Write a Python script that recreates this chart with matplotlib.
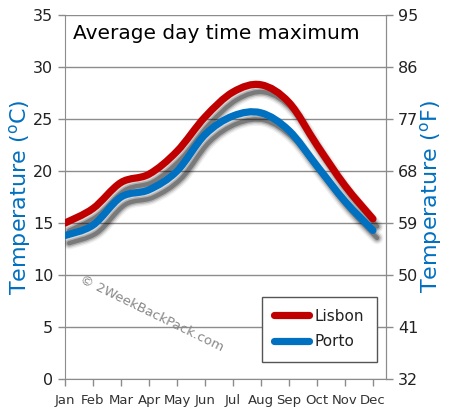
import matplotlib
matplotlib.use("Agg")
import matplotlib.pyplot as plt
import matplotlib.patheffects as pe
from matplotlib.path import Path
from matplotlib.patches import PathPatch
from matplotlib.lines import Line2D

# data
months = ["Jan", "Feb", "Mar", "Apr", "May", "Jun", "Jul", "Aug", "Sep", "Oct", "Nov", "Dec"]
lisbon = [15.0, 16.4, 18.9, 19.7, 21.9, 25.2, 27.6, 28.3, 26.6, 22.5, 18.6, 15.4]
porto = [13.8, 14.8, 17.5, 18.2, 20.0, 23.5, 25.3, 25.6, 23.9, 20.5, 17.1, 14.3]
c_ticks = [0, 5, 10, 15, 20, 25, 30, 35]
f_ticks = [32, 41, 50, 59, 68, 77, 86, 95]

RED = "#c00000"
BLUE = "#0070c0"
GRID = "#8c8c8c"


def smooth_path(xs, ys):
    # catmull-rom through the points, as cubic bezier segments
    pts = list(zip(xs, ys))
    verts = [pts[0]]
    codes = [Path.MOVETO]
    n = len(pts)
    for i in range(n - 1):
        p0 = pts[i - 1] if i > 0 else pts[i]
        p1 = pts[i]
        p2 = pts[i + 1]
        p3 = pts[i + 2] if i + 2 < n else pts[i + 1]
        c1 = (p1[0] + (p2[0] - p0[0]) / 6, p1[1] + (p2[1] - p0[1]) / 6)
        c2 = (p2[0] - (p3[0] - p1[0]) / 6, p2[1] - (p3[1] - p1[1]) / 6)
        verts += [c1, c2, p2]
        codes += [Path.CURVE4] * 3
    return Path(verts, codes)


fig, ax = plt.subplots(figsize=(4.5, 4.2), dpi=100)
fig.subplots_adjust(left=0.1444, right=0.858, top=0.964, bottom=0.0976)

x = list(range(len(months)))
lw = 5.2
# fake a blurred drop shadow with a few stacked strokes
shadow = [pe.SimpleLineShadow(offset=(3, -5.5), shadow_color="k", alpha=a, linewidth=lw + w)
          for a, w in [(0.06, 4), (0.1, 2), (0.18, 0), (0.3, -2)]]
for vals, col in [(lisbon, RED), (porto, BLUE)]:
    patch = PathPatch(smooth_path(x, vals), fill=False, edgecolor=col, lw=lw,
                      capstyle="round", joinstyle="round", zorder=3)
    patch.set_path_effects(shadow + [pe.Normal()])
    ax.add_patch(patch)

ax.set_xlim(0, 11.47)
ax.set_ylim(0, 35)
ax.set_xticks(x)
ax.set_xticklabels(months, fontsize=9.5, color="#333333")
ax.set_yticks(c_ticks)
ax.set_yticklabels(c_ticks, fontsize=11.5, color="#222222")
ax.grid(axis="y", color=GRID, lw=1)
ax.set_axisbelow(True)
ax.tick_params(axis="both", color=GRID, length=5, width=1)
ax.tick_params(axis="x", pad=6)
ax.spines["top"].set_visible(False)
for s in ["left", "right", "bottom"]:
    ax.spines[s].set_color(GRID)

ax.set_ylabel("Temperature ($^{\\mathregular{o}}$C)", color=BLUE, fontsize=16, labelpad=0)

ax2 = ax.twinx()
ax2.set_ylim(0, 35)
ax2.set_yticks(c_ticks)
ax2.set_yticklabels(f_ticks, fontsize=11.5, color="#222222")
ax2.tick_params(axis="y", color=GRID, length=5, width=1)
for s in ["top", "left", "bottom"]:
    ax2.spines[s].set_visible(False)
ax2.spines["right"].set_color(GRID)
ax2.set_ylabel("Temperature ($^{\\mathregular{o}}$F)", color=BLUE, fontsize=16, labelpad=0)

ax.text(0.025, 0.975, "Average day time maximum", transform=ax.transAxes,
        fontsize=14.5, color="black", va="top", ha="left", zorder=5)

ax.text(0.27, 0.18, "\u00a9 2WeekBackPack.com", transform=ax.transAxes,
        fontsize=9.5, color="#888888", rotation=-26, ha="center", va="center",
        rotation_mode="anchor")

handles = [Line2D([], [], color=RED, lw=lw, solid_capstyle="round"),
           Line2D([], [], color=BLUE, lw=lw, solid_capstyle="round")]
leg = ax2.legend(handles, ["Lisbon", "Porto"], loc="lower right",
                 bbox_to_anchor=(0.985, 0.035), fontsize=11, frameon=True,
                 fancybox=False, edgecolor="#555555", framealpha=1,
                 handlelength=2.3, labelspacing=0.7, borderpad=0.8, handletextpad=0.4,
                 borderaxespad=0.3)
leg.get_frame().set_linewidth(1)
for t in leg.get_texts():
    t.set_color("#222222")

fig.savefig("out.png", dpi=100)
